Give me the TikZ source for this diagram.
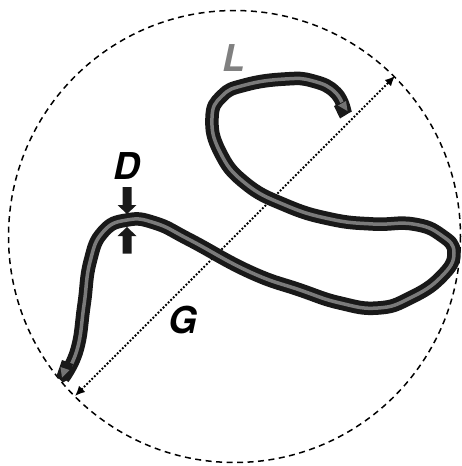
\documentclass[tikz,border=0pt]{standalone}
\usepackage{fontspec}
\setmainfont{TeX Gyre Heros}
\usetikzlibrary{arrows.meta}
\tikzset{
  lab/.style={font=\fontsize{37}{37}\selectfont\bfseries\itshape,inner sep=0pt},
  blockarrow/.style={fill=black!90,draw=none},
  diam/.style={line width=1.9pt,dash pattern=on 1.8pt off 1.8pt,{Latex[length=10pt,width=9pt]}-{Latex[length=10pt,width=9pt]}},
}
\newcommand{\fibrepath}{plot[smooth,tension=0.8] coordinates {(345,113) (336,93) (313,81) (285,79) (245,85) (222,96) (212,118) (220,152) (245,183) (285,205) (330,219) (373,224) (413,224) (441,235) (454,253) (441,277) (410,298) (378,308) (340,303) (300,290) (250,272) (190,240) (155,223) (127,220) (103,232) (90,262) (84,305) (77,350) (63,378)}}
\begin{document}
\begin{tikzpicture}[x=1pt,y=-1pt]
\useasboundingbox (0,0) rectangle (462,466);
\draw[line width=1.5pt,dash pattern=on 6pt off 4.5pt] (234.5,236.5) circle[radius=226];
\coordinate (gA) at (75,396);
\coordinate (gB) at (395,76);
\draw[diam] (gA) -- (gB);
\draw[black!90,line width=13.5pt,line join=round] \fibrepath;
\draw[black!52,line width=3.5pt,line join=round] \fibrepath;
\fill[black!90] (340,118.5) -- (351.5,111.5) -- (347,100) -- (334,106) -- cycle;
\fill[black!90] (56.5,376) -- (63,382.5) -- (69,379) -- (73,364) -- (62,360) -- cycle;
\fill[black!55] (347.5,111) -- (338,105.5) -- (346,101) -- cycle;
\fill[black!55] (62,377.5) -- (60.5,367) -- (69.5,370) -- cycle;
\fill[blockarrow] (122.5,187) -- (131.5,187) -- (131.5,205) -- (136.5,205) -- (127,214) -- (117.5,205) -- (122.5,205) -- cycle;
\fill[blockarrow] (122.5,253.5) -- (131.5,253.5) -- (131.5,236) -- (136.5,236) -- (127,227) -- (117.5,236) -- (122.5,236) -- cycle;
\node[lab,text=black!50] (L) at (234,58.5) {L};
\node[lab] (D) at (127,166) {D};
\node[lab] (G) at (183,320.5) {G};
\end{tikzpicture}
\end{document}
